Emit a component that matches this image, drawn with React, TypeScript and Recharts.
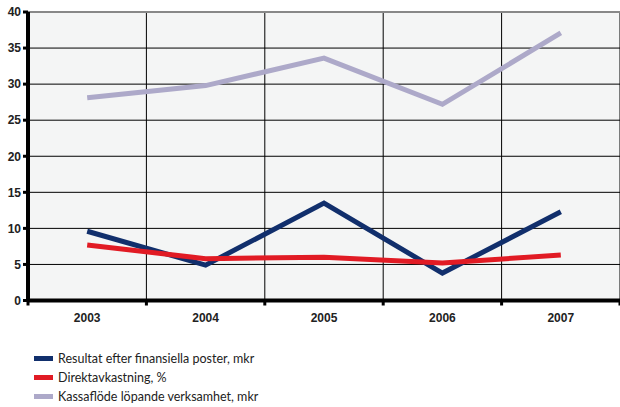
import { LineChart, Line, XAxis, YAxis, CartesianGrid, ReferenceLine } from 'recharts'

const years = ['2003', '2004', '2005', '2006', '2007']
const resultat = [9.6, 4.9, 13.5, 3.8, 12.3]
const direktavkastning = [7.7, 5.8, 6.0, 5.2, 6.3]
const kassaflode = [28.1, 29.8, 33.6, 27.2, 37.1]
const yTicks = [0, 5, 10, 15, 20, 25, 30, 35, 40]

const series = [
  { key: 'resultat', name: 'Resultat efter finansiella poster, mkr', color: '#112f6c' },
  { key: 'direkt', name: 'Direktavkastning, %', color: '#e11b24' },
  { key: 'kassa', name: 'Kassaflöde löpande verksamhet, mkr', color: '#ada9c9' },
]

// x is the band centre (band i spans i..i+1)
const chartData = years.map((year, i) => ({
  x: i + 0.5,
  year,
  resultat: resultat[i],
  direkt: direktavkastning[i],
  kassa: kassaflode[i],
}))

const WIDTH = 620
const LEFT = 28
const BAND = (WIDTH - LEFT) / years.length

function YearTick(props: any) {
  const { x, y, payload } = props
  const idx = payload.value - 1
  if (idx < 0 || idx >= years.length) return <g />
  return (
    <text
      x={x - BAND / 2}
      y={y + 14}
      textAnchor="middle"
      fontSize={12}
      fontWeight="bold"
      fill="#222"
      fontFamily="'Liberation Sans', Arial, sans-serif"
    >
      {years[idx]}
    </text>
  )
}

export default function App() {
  return (
    <div style={{ position: 'absolute', left: 0, top: 0, width: WIDTH, height: 407, background: '#fff' }}>
      <LineChart
        width={WIDTH}
        height={340}
        data={chartData}
        margin={{ top: 12, right: 0, left: 0, bottom: 9.5 }}
      >
        <CartesianGrid stroke="#000" strokeWidth={1} fill="#f4f5f5" />
        <XAxis
          dataKey="x"
          type="number"
          domain={[0, 5]}
          ticks={[0, 1, 2, 3, 4, 5]}
          height={30}
          axisLine={{ stroke: '#000', strokeWidth: 4 }}
          tickLine={{ stroke: '#000', strokeWidth: 3 }}
          tickSize={5}
          tick={<YearTick />}
          interval={0}
        />
        <YAxis
          domain={[0, 40]}
          ticks={yTicks}
          width={LEFT}
          axisLine={{ stroke: '#000', strokeWidth: 4 }}
          tickLine={{ stroke: '#000', strokeWidth: 3 }}
          tickSize={5}
          tick={{
            fontSize: 12,
            fontWeight: 'bold',
            fill: '#222',
            fontFamily: "'Liberation Sans', Arial, sans-serif",
          }}
          interval={0}
        />
        <ReferenceLine y={40} stroke="#888" strokeWidth={2} />
        {series.map((s) => (
          <Line
            key={s.key}
            dataKey={s.key}
            name={s.name}
            stroke={s.color}
            strokeWidth={5}
            dot={false}
            type="linear"
            isAnimationActive={false}
          />
        ))}
      </LineChart>

      <div style={{ position: 'absolute', left: 34, top: 349, fontFamily: 'Lato, sans-serif', fontSize: 12.5, color: '#222' }}>
        {series.map((s) => (
          <div key={s.key} style={{ display: 'flex', alignItems: 'center', height: 19 }}>
            <span style={{ display: 'inline-block', width: 19, height: 5, background: s.color, marginRight: 5 }} />
            <span>{s.name}</span>
          </div>
        ))}
      </div>
    </div>
  )
}
